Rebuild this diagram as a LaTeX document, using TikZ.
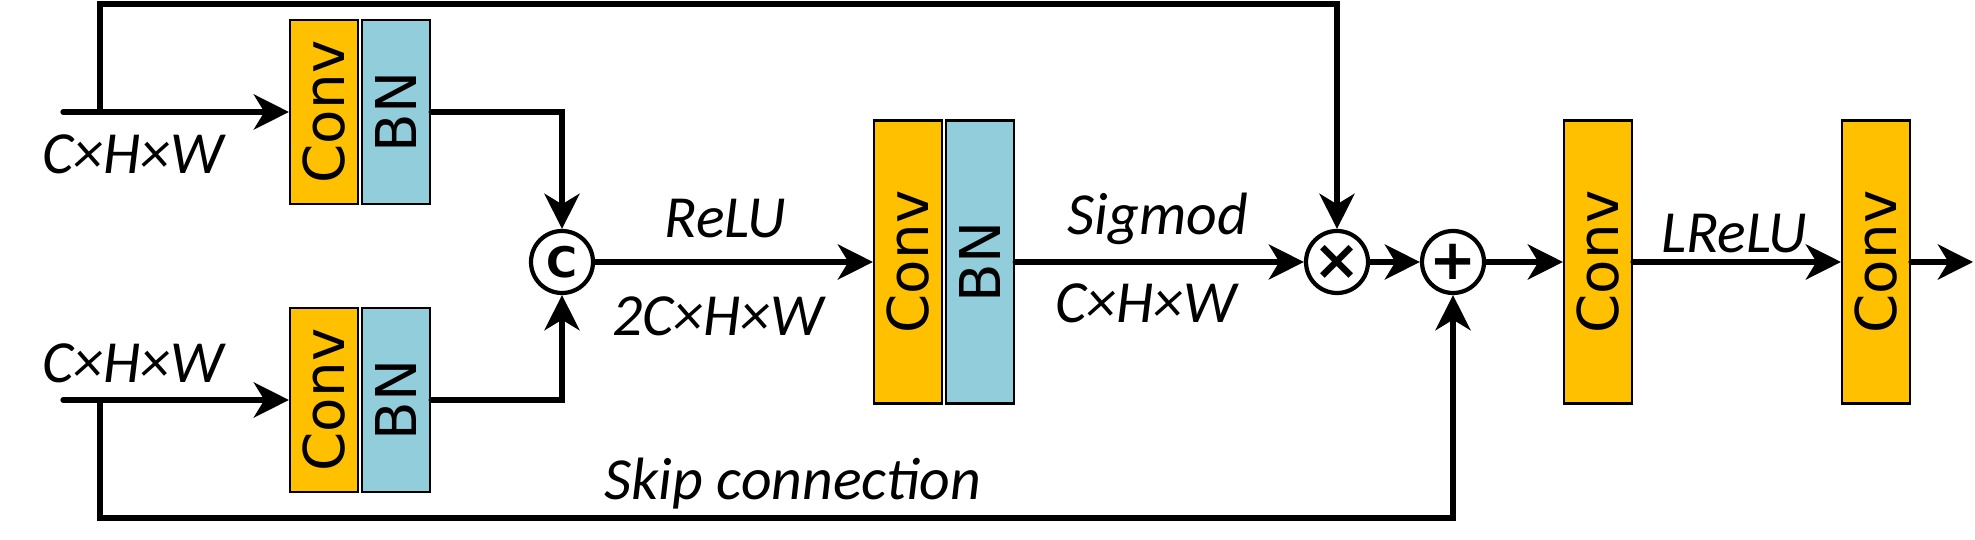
\documentclass[tikz,border=0pt]{standalone}
\usepackage{fontspec}
\setmainfont{Carlito}
\newfontfamily\blockfont{DejaVu Sans}
\usepackage{graphicx}
\usetikzlibrary{positioning,arrows.meta}
\definecolor{convcol}{HTML}{FFC000}
\definecolor{bncol}{HTML}{92CDDC}

\begin{document}
\begin{tikzpicture}[line width=1.5pt,line cap=round,
  arr/.style={-{Stealth[length=10pt,width=10pt,inset=3pt]}},
  blk/.style={draw,line width=0.6pt,inner sep=0pt,minimum width=0.68cm,font=\blockfont\fontsize{16}{16}\selectfont},
  conv/.style={blk,fill=convcol},
  bn/.style={blk,fill=bncol},
  op/.style={circle,draw,line width=1.2pt,fill=white,minimum size=0.62cm,inner sep=0pt,font=\blockfont\bfseries\fontsize{16}{16}\selectfont},
  lab/.style={font=\itshape\fontsize{17}{17}\selectfont,anchor=base,inner sep=0pt}]
  \useasboundingbox (0,0) rectangle (19.75,5.4);

  % blocks
  \node[conv,minimum height=1.84cm] (conv1) at (3.24,4.28) {\rotatebox{90}{Conv}};
  \node[bn,minimum height=1.84cm,right=0.02cm of conv1] (bn1) {\rotatebox{90}{BN}};
  \node[conv,minimum height=1.84cm] (conv1b) at (3.24,1.40) {\rotatebox{90}{Conv}};
  \node[bn,minimum height=1.84cm,right=0.02cm of conv1b] (bn1b) {\rotatebox{90}{BN}};
  \node[op,font=\blockfont\bfseries\fontsize{12}{12}\selectfont] (cat) at (5.62,2.78) {C};
  \node[conv,minimum height=2.83cm] (conv2) at (9.08,2.78) {\rotatebox{90}{Conv}};
  \node[bn,minimum height=2.83cm,right=0.02cm of conv2] (bn2) {\rotatebox{90}{BN}};
  \node[op] (mul) at (13.37,2.78) {×};
  \node[op] (add) at (14.53,2.78) {+};
  \node[conv,minimum height=2.83cm] (conv3) at (15.98,2.78) {\rotatebox{90}{Conv}};
  \node[conv,minimum height=2.83cm] (conv4) at (18.76,2.78) {\rotatebox{90}{Conv}};

  \coordinate (in1) at (0.63,4.28);
  \coordinate (sp1) at (1.0,4.28);
  \coordinate (in2) at (0.63,1.40);
  \coordinate (sp2) at (1.0,1.40);
  \coordinate (topy) at (0,5.36);
  \coordinate (boty) at (0,0.22);
  \coordinate (out) at (19.73,2.78);

  % connections
  \draw[arr] (in1) -- (conv1.west);
  \draw[arr] (in2) -- (conv1b.west);
  \draw[arr] (sp1) -- (sp1 |- topy) -| (mul.north);
  \draw[arr] (sp2) -- (sp2 |- boty) -| (add.south);
  \draw[arr] (bn1.east) -| (cat.north);
  \draw[arr] (bn1b.east) -| (cat.south);
  \draw[arr] (cat.east) -- (conv2.west);
  \draw[arr] (bn2.east) -- (mul.west);
  \draw[arr] (mul.east) -- (add.west);
  \draw[arr] (add.east) -- (conv3.west);
  \draw[arr] (conv3.east) -- (conv4.west);
  \draw[arr] (conv4.east) -- (out);

  % labels
  \node[lab] (dim1) at (1.33,3.66) {C×H×W};
  \node[lab] (dim2) at (1.33,1.57) {C×H×W};
  \node[lab] (relu) at (7.25,3.02) {ReLU};
  \node[lab] (dim3) at (7.18,2.04) {2C×H×W};
  \node[lab] (sig) at (11.58,3.05) {Sigmod};
  \node[lab] (dim4) at (11.46,2.17) {C×H×W};
  \node[lab] (lrelu) at (17.34,2.87) {LReLU};
  \node[lab] (skip) at (7.93,0.40) {Skip connection};
\end{tikzpicture}
\end{document}
